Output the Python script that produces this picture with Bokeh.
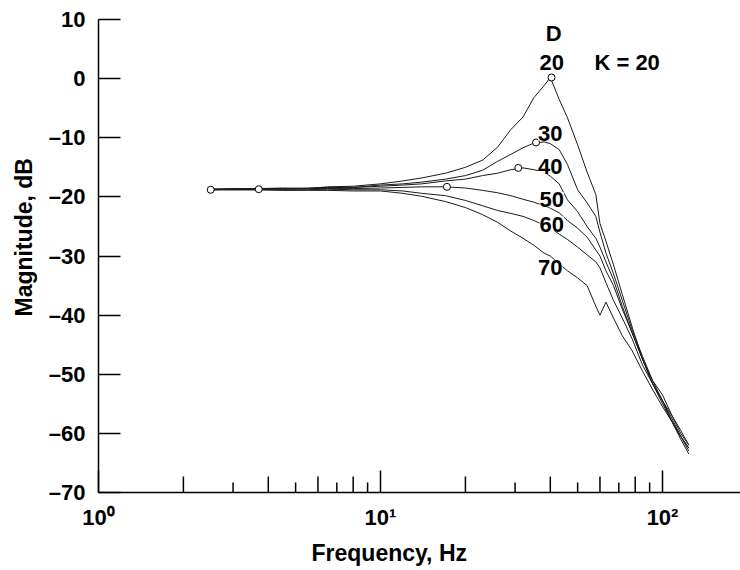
from bokeh.plotting import figure
from bokeh.models import Range1d, FixedTicker, Label, Title
from bokeh.embed import file_html
from bokeh.resources import INLINE

# ---------------- data ----------------
freq = [2.5, 3, 3.7, 4.5, 5.5, 6.5, 8, 10, 12, 14, 17, 20, 23, 26, 29, 32, 35, 38,
        40, 43, 46, 50, 54, 58, 60, 63, 67, 72, 78, 85, 92, 100, 108, 116, 124]

d20 = [-18.7, -18.6, -18.6, -18.5, -18.6, -18.3, -18.2, -17.8, -17.3, -16.8, -16.0,
       -15.0, -13.8, -11.6, -8.6, -6.5, -3.2, -1.2, 0.2, -3.5, -6.6, -11.2, -15.8,
       -19.6, -24.5, -27.5, -31.5, -36.5, -42.0, -47.5, -51.5, -55.0, -58.0, -61.0, -63.5]
d30 = [-18.7, -18.7, -18.6, -18.6, -18.5, -18.4, -18.4, -18.0, -17.8, -17.5, -17.0,
       -16.4, -15.5, -14.0, -12.8, -11.7, -10.9, -10.7, -11.0, -12.0, -14.5, -18.8, -21.0,
       -23.3, -26.0, -29.5, -33.0, -37.5, -42.5, -47.0, -51.0, -54.5, -57.5, -60.5, -63.0]
d40 = [-18.7, -18.7, -18.7, -18.6, -18.6, -18.5, -18.4, -18.2, -18.0, -17.8, -17.3,
       -17.0, -16.4, -16.0, -15.4, -15.1, -15.4, -15.8, -16.5, -17.8, -20.5, -22.5, -25.0,
       -27.0, -28.5, -31.0, -34.0, -38.5, -43.0, -47.5, -51.5, -54.5, -58.0, -60.5, -62.5]
d50 = [-18.8, -18.7, -18.7, -18.7, -18.6, -18.6, -18.6, -18.5, -18.4, -18.3, -18.3,
       -18.5, -18.9, -19.3, -19.8, -20.4, -20.9, -21.5, -21.9, -22.7, -24.0, -25.3, -26.8,
       -29.0, -30.0, -32.5, -35.0, -39.0, -43.0, -47.5, -51.0, -53.5, -57.0, -60.0, -62.0]
d60 = [-18.8, -18.8, -18.8, -18.8, -18.8, -18.7, -18.8, -18.8, -19.0, -19.4, -19.8,
       -20.6, -21.5, -22.3, -22.8, -23.3, -24.0, -24.8, -25.2, -26.3, -27.2, -28.5, -29.8,
       -31.0, -32.0, -34.5, -37.5, -40.5, -44.0, -48.5, -51.5, -54.5, -57.0, -59.5, -62.0]
d70 = [-18.8, -18.8, -18.8, -18.9, -18.9, -18.9, -19.0, -19.0, -19.4, -19.9, -20.8,
       -21.8, -23.0, -24.3, -25.8, -27.0, -28.2, -29.5, -30.0, -31.3, -32.5, -33.7, -35.0,
       -38.5, -40.0, -37.8, -40.5, -43.5, -46.0, -49.5, -52.5, -55.5, -58.0, -60.5, -62.5]

curves = [d20, d30, d40, d50, d60, d70]

marker_f = [40.4, 35.6, 30.8, 17.2, 2.5, 3.7]
marker_db = [0.2, -10.8, -15.1, -18.3, -18.8, -18.7]

ann_text = ["D", "20", "K = 20", "30", "40", "50", "60", "70"]

y_ticks = [-70, -60, -50, -40, -30, -20, -10, 0, 10]
y_tick_labels = ["\u201370", "\u201360", "\u201350", "\u201340", "\u201330",
                 "\u201320", "\u201310", "0", "10"]
decade_ticks = [1, 10, 100]
decade_labels = ["10\u2070", "10\u00b9", "10\u00b2"]
even_ticks = [2, 4, 6, 8, 20, 40, 60, 80]
odd_ticks = [3, 5, 7, 9, 30, 50, 70, 90]

x_title = "Frequency, Hz"
y_title = "Magnitude, dB"

# ---------------- layout / style ----------------
FONT = "Liberation Sans"
FS = "22px"
TFS = "23px"
ann_x = [41.1, 40.5, 74.9, 40.0, 40.0, 40.5, 40.5, 40.0]
ann_y = [7.7, 2.7, 2.7, -9.2, -14.9, -20.5, -24.6, -31.9]

p = figure(width=740, height=570, x_axis_type="log",
           x_range=Range1d(1, 189), y_range=Range1d(-70, 10),
           output_backend="svg", toolbar_location=None,
           min_border_left=98, min_border_right=0, min_border_top=19,
           min_border_bottom=77)
p.xgrid.visible = False
p.ygrid.visible = False
p.outline_line_color = None
p.background_fill_color = "white"
p.border_fill_color = "white"

ya = p.yaxis[0]
ya.ticker = FixedTicker(ticks=y_ticks, minor_ticks=[])
ya.major_label_overrides = {t: l for t, l in zip(y_ticks, y_tick_labels)}
ya.major_tick_in = 22
ya.major_tick_out = 0
ya.minor_tick_in = 0
ya.minor_tick_out = 0
ya.axis_line_width = 1.5
ya.major_tick_line_width = 1.5
ya.axis_line_color = "black"
ya.major_tick_line_color = "black"
ya.major_label_text_font = FONT
ya.major_label_text_font_style = "bold"
ya.major_label_text_font_size = FS
ya.major_label_text_color = "black"
ya.major_label_standoff = 13

xa = p.xaxis[0]
xa.ticker = FixedTicker(ticks=decade_ticks, minor_ticks=[])
xa.major_label_overrides = {t: l for t, l in zip(decade_ticks, decade_labels)}
xa.major_tick_in = 22
xa.major_tick_out = 0
xa.minor_tick_in = 0
xa.minor_tick_out = 0
xa.axis_line_width = 1.5
xa.major_tick_line_width = 1.5
xa.axis_line_color = "black"
xa.major_tick_line_color = "black"
xa.major_label_text_font = FONT
xa.major_label_text_font_style = "bold"
xa.major_label_text_font_size = FS
xa.major_label_text_color = "black"
xa.major_label_standoff = 12

# axis titles as offset titles
p.add_layout(Title(text=x_title, align="left", offset=213, text_font=FONT,
                   text_font_style="bold", text_font_size=TFS, text_color="black",
                   standoff=10), "below")
p.add_layout(Title(text=y_title, align="left", offset=176, text_font=FONT,
                   text_font_style="bold", text_font_size=TFS, text_color="black",
                   standoff=17), "left")

# alternating minor ticks
p.segment(x0=even_ticks, y0=[-70] * len(even_ticks), x1=even_ticks,
          y1=[-67.3] * len(even_ticks), line_color="black", line_width=1.5)
p.segment(x0=odd_ticks, y0=[-70] * len(odd_ticks), x1=odd_ticks,
          y1=[-68.3] * len(odd_ticks), line_color="black", line_width=1.5)

# curves
for c in curves:
    p.line(freq, c, line_color="#1a1a1a", line_width=1)

p.scatter(marker_f, marker_db, marker="circle", size=7, fill_color="white",
          line_color="black", line_width=1)

# curve annotations
for t, x, y in zip(ann_text, ann_x, ann_y):
    p.add_layout(Label(x=x, y=y, text=t, text_align="center", text_baseline="middle",
                       text_font=FONT, text_font_style="bold", text_font_size=FS,
                       text_color="black", background_fill_color="white"))

open("out.html", "w").write(file_html(p, INLINE))
